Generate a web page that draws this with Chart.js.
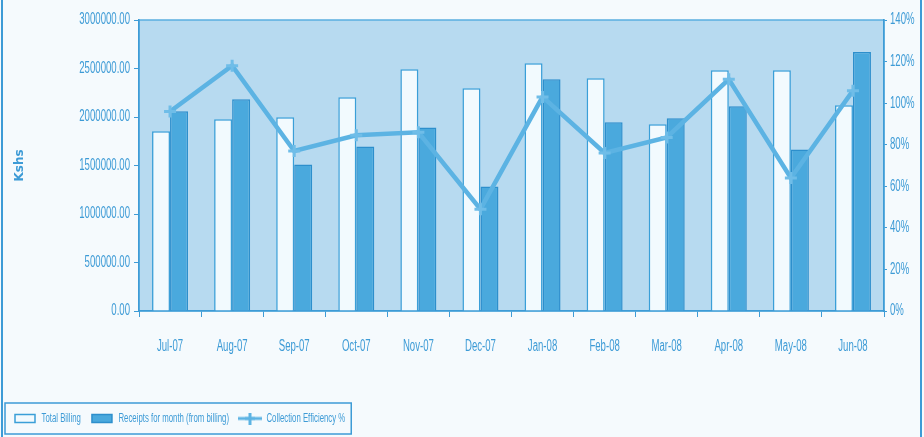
<!DOCTYPE html>
<html>
<head>
<meta charset="utf-8">
<script src="https://cdn.jsdelivr.net/npm/chart.js@4/dist/chart.umd.min.js"></script>
<style>
  html, body { margin: 0; padding: 0; background: #f5fafd; }
  #wrap { width: 924px; height: 437px; position: relative; }
</style>
</head>
<body>
<div id="wrap"><canvas id="myChart" width="924" height="437"></canvas></div>
<script>
const months = ["Jul-07", "Aug-07", "Sep-07", "Oct-07", "Nov-07", "Dec-07", "Jan-08", "Feb-08", "Mar-08", "Apr-08", "May-08", "Jun-08"];
const totalBilling = [1852000, 1976000, 1997000, 2203000, 2493000, 2297000, 2555000, 2400000, 1924000, 2483000, 2483000, 2121000];
const receipts = [2059000, 2183000, 1510000, 1697000, 1893000, 1283000, 2390000, 1945000, 1986000, 2110000, 1666000, 2669000];
const efficiency = [96, 118, 77, 84.5, 86, 49, 103, 76, 83.5, 111.5, 64, 106];

const BLUE = "#3d9bd6";
const FONT = "'Liberation Sans', Arial, sans-serif";
const NARROW = 0.6; // the original uses a very condensed face; squeeze normal text

// squeeze non-bold text horizontally (measure + draw) so layout stays consistent
const proto = CanvasRenderingContext2D.prototype;
const origMeasure = proto.measureText;
const origFill = proto.fillText;
proto.measureText = function (t) {
    const m = origMeasure.call(this, t);
    if (this.font.indexOf("bold") !== -1) return m;
    return { width: m.width * NARROW, actualBoundingBoxAscent: m.actualBoundingBoxAscent, actualBoundingBoxDescent: m.actualBoundingBoxDescent };
};
proto.fillText = function (t, x, y, mw) {
    if (this.font.indexOf("bold") !== -1) return origFill.call(this, t, x, y, mw);
    let w = origMeasure.call(this, t).width * NARROW;
    if (mw !== undefined) w = Math.min(w, mw);
    return origFill.call(this, t, x, y, w);
};

// legend symbol for the line series: a short line with a plus marker
const lineIcon = document.createElement("canvas");
lineIcon.width = 24; lineIcon.height = 12;
(function () {
    const c = lineIcon.getContext("2d");
    c.strokeStyle = "#5cb3e3";
    c.lineWidth = 3;
    c.beginPath(); c.moveTo(0, 6); c.lineTo(24, 6); c.stroke();
    c.beginPath(); c.moveTo(12, 0); c.lineTo(12, 12); c.moveTo(7, 6); c.lineTo(17, 6); c.stroke();
})();

const plotBg = {
    id: "plotBg",
    beforeDraw(chart) {
        const { ctx, chartArea: a } = chart;
        ctx.save();
        ctx.fillStyle = "#f5fafd";
        ctx.fillRect(0, 0, chart.width, chart.height);
        ctx.fillStyle = "#b7daf0";
        ctx.fillRect(a.left, a.top, a.right - a.left, a.bottom - a.top);
        ctx.strokeStyle = "#5aaee0";
        ctx.lineWidth = 1.5;
        ctx.strokeRect(a.left, a.top, a.right - a.left, a.bottom - a.top);
        // page frame
        ctx.strokeStyle = BLUE;
        ctx.lineWidth = 2;
        ctx.beginPath();
        ctx.moveTo(2, 0); ctx.lineTo(2, chart.height);
        ctx.moveTo(921, 0); ctx.lineTo(921, chart.height);
        ctx.stroke();
        ctx.restore();
    },
    afterDraw(chart) {
        const lg = chart.legend;
        if (!lg || !lg.legendHitBoxes.length) return;
        const boxes = lg.legendHitBoxes;
        const left = Math.min(...boxes.map(b => b.left)) - 10;
        const right = Math.max(...boxes.map(b => b.left + b.width)) + 6;
        const ctx = chart.ctx;
        ctx.save();
        ctx.strokeStyle = BLUE;
        ctx.lineWidth = 1.5;
        ctx.strokeRect(left, lg.top + 2, right - left, lg.bottom - lg.top - 3);
        ctx.restore();
    }
};

new Chart(document.getElementById("myChart").getContext("2d"), {
    type: "bar",
    data: {
        labels: months,
        datasets: [{
            label: "Total Billing",
            data: totalBilling,
            backgroundColor: "#f2fafe",
            borderColor: "#3a9fd8",
            borderWidth: 1.5,
            pointStyle: "rect",
            order: 1,
            yAxisID: "y"
        }, {
            label: "Receipts for month (from billing)",
            data: receipts,
            backgroundColor: "#4aa9dd",
            borderColor: "#2d8fcc",
            borderWidth: 1.5,
            pointStyle: "rect",
            order: 1,
            yAxisID: "y"
        }, {
            type: "line",
            label: "Collection Efficiency %",
            data: efficiency,
            borderColor: "#5cb3e3",
            backgroundColor: "#5cb3e3",
            borderWidth: 4.5,
            pointStyle: "cross",
            pointRadius: 6,
            pointBorderWidth: 3,
            pointBorderColor: "#6fbde8",
            order: 0,
            yAxisID: "y1"
        }]
    },
    options: {
        responsive: false,
        animation: false,
        layout: { padding: { left: 4, right: 0, top: 20, bottom: 2 } },
        datasets: {
            bar: { categoryPercentage: 0.58, barPercentage: 1.0 }
        },
        plugins: {
            tooltip: { enabled: false },
            legend: {
                position: "bottom",
                align: "start",
                labels: {
                    color: BLUE,
                    font: { family: FONT, size: 13 },
                    usePointStyle: true,
                    pointStyleWidth: 20,
                    boxHeight: 8,
                    padding: 11,
                    sort: (a, b) => a.datasetIndex - b.datasetIndex,
                    generateLabels(chart) {
                        const items = Chart.defaults.plugins.legend.labels.generateLabels(chart);
                        items.forEach(it => {
                            if (it.datasetIndex === 2) it.pointStyle = lineIcon;
                        });
                        return items;
                    }
                }
            }
        },
        scales: {
            x: {
                grid: { display: true, drawOnChartArea: false, offset: true, tickLength: 6, color: BLUE },
                border: { color: BLUE, width: 1.5 },
                ticks: { color: BLUE, font: { family: FONT, size: 16 }, padding: 20, maxRotation: 0 },
                afterFit(scale) { scale.height = 90; }
            },
            y: {
                position: "left",
                min: 0,
                max: 3000000,
                ticks: {
                    stepSize: 500000,
                    color: BLUE,
                    font: { family: FONT, size: 16 },
                    padding: 4,
                    callback: v => v.toFixed(2)
                },
                grid: { drawOnChartArea: false, tickLength: 5, color: BLUE },
                border: { color: BLUE, width: 1.5 },
                title: {
                    display: true,
                    text: "Kshs",
                    color: BLUE,
                    font: { family: "'DejaVu Sans', sans-serif", size: 12, weight: "bold" },
                    padding: { top: 9, bottom: 0 }
                },
                afterFit(scale) { scale.width = 135; }
            },
            y1: {
                position: "right",
                min: 0,
                max: 140,
                ticks: {
                    stepSize: 20,
                    color: BLUE,
                    font: { family: FONT, size: 16 },
                    padding: 3,
                    callback: v => v + "%"
                },
                grid: { drawOnChartArea: false, tickLength: 3, color: BLUE },
                border: { color: BLUE, width: 1.5 },
                afterFit(scale) { scale.width = 40; }
            }
        }
    },
    plugins: [plotBg]
});
</script>
</body>
</html>
